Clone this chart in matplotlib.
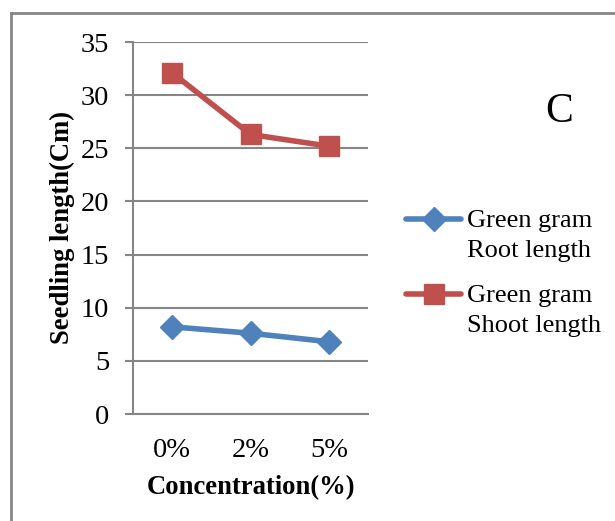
import matplotlib
matplotlib.use("Agg")
import numpy as np
import matplotlib.pyplot as plt
from matplotlib.lines import Line2D
from matplotlib.legend_handler import HandlerLine2D

categories = ["0%", "2%", "5%"]
root_length = [8.2, 7.6, 6.8]
shoot_length = [32.1, 26.3, 25.2]
series_labels = ["Green gram\nRoot length", "Green gram\nShoot length"]
yticks = [0, 5, 10, 15, 20, 25, 30, 35]

plt.rcParams['font.family'] = ['Liberation Serif', 'DejaVu Serif']

W, H = 615, 521
fig = plt.figure(figsize=(W / 100, H / 100), dpi=100)
ax = fig.add_axes([133 / W, 1 - 414 / H, (368 - 133) / W, (414 - 42) / H])

x = list(range(len(categories)))
blue = "#4F81BD"
red = "#C0504D"
grid = "#868686"

l1, = ax.plot(x, root_length, color=blue, lw=4, marker="D", ms=12.5, mec=blue, mfc=blue,
              label=series_labels[0], solid_capstyle="round")
l2, = ax.plot(x, shoot_length, color=red, lw=4, marker="s", ms=14, mec=red, mfc=red,
              label=series_labels[1], solid_capstyle="round")

ax.set_xlim(-0.5, 2.5)
ax.set_ylim(0, 35)
ax.set_yticks(yticks)
ax.set_xticks(x)
ax.set_xticklabels(categories)
ax.yaxis.grid(True, color=grid, lw=1.5)
ax.set_axisbelow(True)
for s in ["top", "right"]:
    ax.spines[s].set_visible(False)
ax.spines["left"].set_color(grid)
ax.spines["bottom"].set_color(grid)
ax.spines["left"].set_linewidth(1.5)
ax.spines["bottom"].set_linewidth(1.5)
ax.tick_params(axis="y", length=6, width=1.5, color=grid, labelsize=20.5, pad=11)
ax.tick_params(axis="x", length=0, labelsize=20.5, pad=17)

ax.set_xlabel("Concentration(%)", fontsize=19.2, fontweight="bold", labelpad=9)
ax.set_ylabel("Seedling length(Cm)", fontsize=19.2, fontweight="bold", labelpad=4)


class UpHandler(HandlerLine2D):
    def __init__(self, shift, **kw):
        super().__init__(**kw)
        self.shift = shift

    def create_artists(self, legend, orig_handle, xdescent, ydescent, width, height,
                       fontsize, trans):
        arts = super().create_artists(legend, orig_handle, xdescent, ydescent, width,
                                      height, fontsize, trans)
        for a in arts:
            if isinstance(a, Line2D):
                a.set_ydata(np.asarray(a.get_ydata()) + self.shift)
        return arts


leg = fig.legend(handles=[l1, l2], loc="upper left",
                 bbox_to_anchor=(406 / W, 1 - 210 / H), frameon=False,
                 fontsize=19, handlelength=2.1, handletextpad=0.2, labelspacing=0.85,
                 borderaxespad=0, borderpad=0,
                 handler_map={Line2D: UpHandler(11.5)})
for t in leg.get_texts():
    t.set_linespacing(1.48)

fig.text(559 / W, 1 - 112 / H, "C", fontsize=30, ha="center", va="center")

# outer border (only left and top visible in the crop)
fig.add_artist(Line2D([11 / W, 11 / W], [0, 1 - 13 / H], transform=fig.transFigure,
                      color=grid, lw=2))
fig.add_artist(Line2D([11 / W, 1], [1 - 13 / H, 1 - 13 / H], transform=fig.transFigure,
                      color=grid, lw=2))

fig.savefig("out.png", dpi=100)
